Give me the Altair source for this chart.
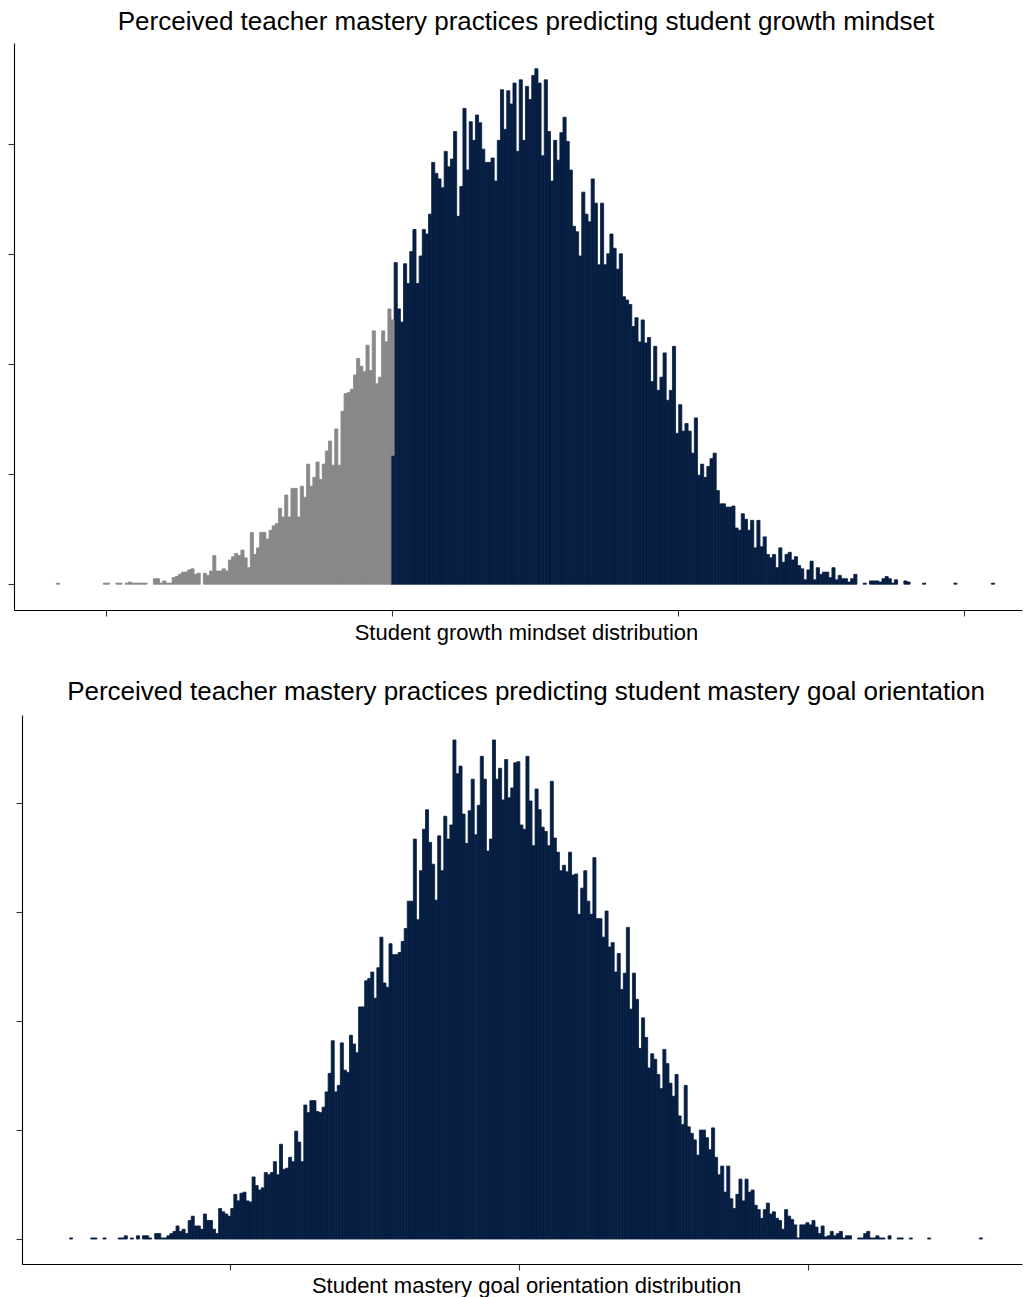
import altair as alt
import pandas as pd

TITLE_TOP = "Perceived teacher mastery practices predicting student growth mindset"
TITLE_BOTTOM = "Perceived teacher mastery practices predicting student mastery goal orientation"
XTITLE_TOP = "Student growth mindset distribution"
XTITLE_BOTTOM = "Student mastery goal orientation distribution"

# histogram bins (300 bins each panel)
TOP_BIN_START = -1.17343
TOP_BIN_WIDTH = 0.010934
TOP_NAVY_FIRST_BIN = 107

# counts of the grey part (below the threshold), bins 0..107
TOP_GRAY = [
    1, 0, 0, 0, 0, 0, 0, 0, 0, 0,
    0, 0, 0, 0, 0, 1, 1, 0, 0, 1,
    1, 0, 1, 2, 1, 1, 1, 1, 1, 0,
    0, 5, 5, 1, 3, 1, 1, 6, 7, 9,
    11, 11, 13, 14, 9, 10, 0, 10, 8, 12,
    26, 12, 12, 14, 12, 22, 25, 28, 26, 31,
    24, 15, 47, 27, 33, 47, 47, 41, 49, 53,
    55, 69, 61, 81, 61, 87, 87, 61, 89, 79,
    109, 89, 97, 111, 95, 109, 121, 130, 108, 141,
    108, 157, 173, 174, 177, 190, 205, 198, 193, 217,
    194, 230, 182, 188, 230, 220, 250, 123,
]

# counts of the navy part, bins 107..299
TOP_NAVY = [
    117,
    292, 250, 238, 291, 273, 302, 322, 273, 298, 322,
    318, 336, 383, 373, 368, 360, 393, 379, 386, 411,
    334, 361, 432, 376, 420, 403, 426, 419, 395, 383,
    383, 387, 366, 403, 449, 413, 448, 436, 455, 393,
    458, 403, 452, 440, 462, 468, 455, 389, 458, 411,
    366, 403, 385, 410, 424, 402, 376, 325, 320, 298,
    356, 336, 329, 368, 346, 290, 346, 290, 300, 318,
    305, 286, 300, 261, 258, 254, 234, 242, 220, 240,
    219, 224, 184, 216, 176, 188, 210, 167, 176, 216,
    137, 163, 139, 146, 139, 119, 151, 99, 109, 97,
    107, 114, 119, 85, 73, 73, 70, 70, 71, 51,
    49, 64, 59, 49, 58, 33, 58, 34, 43, 27,
    24, 27, 15, 33, 20, 27, 29, 22, 25, 17,
    14, 4, 13, 21, 4, 15, 9, 11, 11, 6,
    15, 4, 8, 5, 5, 2, 5, 9, 0, 0,
    1, 0, 3, 3, 3, 2, 5, 7, 5, 1,
    4, 0, 0, 3, 2, 0, 0, 0, 0, 1,
    0, 0, 0, 0, 0, 0, 0, 0, 0, 1,
    0, 0, 0, 0, 0, 0, 0, 0, 0, 0,
    0, 1,
]

BOTTOM_BIN_START = -1.5527
BOTTOM_BIN_WIDTH = 0.010511
BOTTOM_COUNTS = [
    1, 0, 0, 0, 0, 0, 0, 1, 1, 0,
    0, 1, 0, 0, 0, 0, 1, 1, 3, 0,
    1, 0, 3, 0, 3, 3, 1, 0, 5, 5,
    1, 1, 3, 5, 7, 12, 7, 9, 5, 17,
    21, 12, 12, 9, 23, 17, 17, 9, 5, 28,
    25, 23, 21, 28, 41, 35, 42, 43, 35, 34,
    57, 49, 45, 47, 61, 59, 61, 71, 59, 87,
    64, 65, 75, 71, 99, 89, 71, 123, 116, 127,
    127, 117, 116, 121, 135, 152, 182, 135, 141, 180,
    155, 153, 187, 179, 171, 213, 213, 237, 239, 245,
    221, 249, 277, 235, 231, 271, 261, 261, 263, 273,
    285, 310, 310, 367, 293, 338, 376, 394, 364, 344,
    311, 370, 338, 388, 367, 380, 458, 427, 434, 390,
    363, 393, 422, 371, 398, 443, 422, 356, 367, 458,
    422, 432, 403, 440, 405, 414, 437, 438, 380, 376,
    443, 402, 361, 413, 394, 378, 374, 361, 420, 368,
    355, 338, 343, 337, 355, 334, 335, 298, 322, 338,
    310, 298, 350, 294, 294, 277, 301, 268, 272, 245,
    262, 229, 244, 286, 211, 244, 220, 175, 203, 185,
    157, 170, 165, 151, 138, 174, 161, 143, 131, 151,
    113, 105, 141, 103, 97, 91, 77, 100, 100, 93,
    82, 102, 75, 59, 67, 43, 67, 37, 28, 41,
    55, 35, 55, 43, 45, 31, 27, 19, 27, 33,
    23, 25, 19, 17, 9, 27, 21, 18, 13, 1,
    13, 13, 15, 13, 17, 11, 5, 12, 2, 3,
    7, 3, 5, 7, 1, 3, 3, 0, 0, 1,
    1, 5, 7, 1, 1, 3, 1, 1, 0, 3,
    0, 0, 1, 1, 0, 0, 1, 0, 0, 0,
    0, 0, 1, 0, 0, 0, 0, 0, 0, 0,
    0, 0, 0, 0, 0, 0, 0, 0, 0, 1,
]

TOP_XTICKS = [-1, 0, 1, 2]
BOTTOM_XTICKS = [-1, 0, 1]
YTICKS = [0, 100, 200, 300, 400]
TOP_XDOMAIN = [-1.3217, 2.2028]
BOTTOM_XDOMAIN = [-1.7168, 1.7375]

NAVY = "#061E41"
GRAY = "#888888"
FONT = "Liberation Sans"

# ---- build tables ----
top_rows = []
navy_by_bin = {TOP_NAVY_FIRST_BIN + j: c for j, c in enumerate(TOP_NAVY)}
for j, c in enumerate(TOP_NAVY):
    b = TOP_NAVY_FIRST_BIN + j
    if c > 0:
        top_rows.append(dict(x0=TOP_BIN_START + b * TOP_BIN_WIDTH,
                             x1=TOP_BIN_START + (b + 1) * TOP_BIN_WIDTH,
                             y0=0, y1=c, grp="navy"))
for b, c in enumerate(TOP_GRAY):
    base = navy_by_bin.get(b, 0)
    if c > 0:
        top_rows.append(dict(x0=TOP_BIN_START + b * TOP_BIN_WIDTH,
                             x1=TOP_BIN_START + (b + 1) * TOP_BIN_WIDTH,
                             y0=base, y1=base + c, grp="gray"))
top_df = pd.DataFrame(top_rows)
top_max = float(top_df["y1"].max())

bot_rows = []
for b, c in enumerate(BOTTOM_COUNTS):
    if c > 0:
        bot_rows.append(dict(x0=BOTTOM_BIN_START + b * BOTTOM_BIN_WIDTH,
                             x1=BOTTOM_BIN_START + (b + 1) * BOTTOM_BIN_WIDTH,
                             y0=0, y1=c, grp="navy"))
bot_df = pd.DataFrame(bot_rows)
bot_max = float(bot_df["y1"].max())

grp_scale = alt.Scale(domain=["gray", "navy"], range=[GRAY, NAVY])
color = alt.Color("grp:N", scale=grp_scale, legend=None)
stroke = alt.Stroke("grp:N", scale=grp_scale, legend=None)


def xaxis(title, ticks, pad):
    return alt.Axis(values=ticks, title=title, labels=False, grid=False,
                    tickSize=6, titleX=512, titlePadding=pad,
                    titleBaseline="alphabetic")


top = alt.Chart(top_df).mark_rect(strokeWidth=0.8).encode(
    x=alt.X("x0:Q", scale=alt.Scale(domain=TOP_XDOMAIN, nice=False, zero=False),
            axis=xaxis(XTITLE_TOP, TOP_XTICKS, 23)),
    x2="x1:Q",
    y=alt.Y("y0:Q", scale=alt.Scale(domain=[-0.05 * top_max, 1.05 * top_max], nice=False, zero=False),
            axis=alt.Axis(values=YTICKS, title=None, labels=False, grid=False, tickSize=6)),
    y2="y1:Q",
    color=color,
    stroke=stroke,
).properties(
    width=1008, height=567,
    title=alt.TitleParams(TITLE_TOP, fontSize=26, font=FONT, fontWeight="normal",
                          anchor="middle", frame="group",
                          offset=8, dx=8, color="black"),
)

bottom = alt.Chart(bot_df).mark_rect(strokeWidth=0.8).encode(
    x=alt.X("x0:Q", scale=alt.Scale(domain=BOTTOM_XDOMAIN, range=[8, 1008], nice=False, zero=False),
            axis=xaxis(XTITLE_BOTTOM, BOTTOM_XTICKS, 22)),
    x2="x1:Q",
    y=alt.Y("y0:Q", scale=alt.Scale(domain=[-0.05 * bot_max, 1.05 * bot_max], nice=False, zero=False),
            axis=alt.Axis(values=YTICKS, title=None, labels=False, grid=False, tickSize=6, offset=-8)),
    y2="y1:Q",
    color=color,
    stroke=stroke,
).properties(
    width=1008, height=549,
    title=alt.TitleParams(TITLE_BOTTOM, fontSize=26, font=FONT, fontWeight="normal",
                          anchor="middle", frame="group",
                          offset=10.5, dx=8, color="black"),
)

chart = alt.vconcat(top, bottom, spacing=33).properties(
    padding={"top": 0, "left": -2, "right": 0, "bottom": 0}
).configure_view(
    stroke="transparent"
).configure_axis(
    domainColor="black", domainWidth=1.1, tickColor="#333333", tickWidth=1.1,
    titleFont=FONT, titleFontSize=22, titleFontWeight="normal", titleColor="black",
)

chart.save("out.html", embed_options={"renderer": "svg", "actions": False})
